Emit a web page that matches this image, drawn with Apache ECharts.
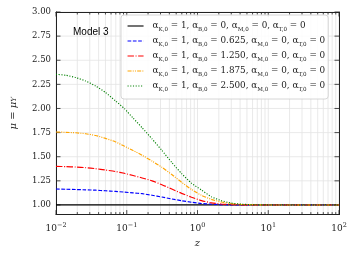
<!DOCTYPE html>
<html><head><meta charset="utf-8">
<script src="https://cdn.jsdelivr.net/npm/echarts@6/dist/echarts.min.js"></script>
<style>html,body{margin:0;padding:0;background:#fff}#c{width:354px;height:253px}</style>
</head><body><div id="c"></div>
<script>
// ---- data ----
const zVals   = [0.01, 0.0138, 0.0191, 0.0263, 0.0362, 0.05, 0.069, 0.0922, 0.123, 0.165, 0.2275, 0.314, 0.433, 0.597, 0.824, 1.137, 1.57, 2.167, 2.99, 4.13, 6.68, 10.8, 100];
const muB0000 = [1, 1, 1, 1, 1, 1, 1, 1, 1, 1, 1, 1, 1, 1, 1, 1, 1, 1, 1, 1, 1, 1, 1];
const muB0625 = [1.165, 1.163, 1.16, 1.157, 1.153, 1.147, 1.14, 1.133, 1.125, 1.117, 1.10, 1.082, 1.062, 1.044, 1.028, 1.015, 1.008, 1.003, 1.001, 1.0, 1.0, 1.0, 1.0];
const muB1250 = [1.40, 1.397, 1.393, 1.387, 1.376, 1.362, 1.347, 1.328, 1.305, 1.28, 1.25, 1.21, 1.165, 1.12, 1.08, 1.045, 1.022, 1.01, 1.004, 1.001, 1.0, 1.0, 1.0];
const muB1875 = [1.756, 1.753, 1.748, 1.738, 1.72, 1.69, 1.655, 1.61, 1.565, 1.515, 1.455, 1.39, 1.315, 1.235, 1.16, 1.10, 1.058, 1.03, 1.014, 1.006, 1.001, 1.0, 1.0];
const muB2500 = [2.354, 2.344, 2.32, 2.285, 2.234, 2.166, 2.08, 2.00, 1.90, 1.80, 1.685, 1.565, 1.44, 1.325, 1.225, 1.155, 1.085, 1.045, 1.02, 1.008, 1.002, 1.0, 1.0];
const alphaB = ['0', '0.625', '1.250', '1.875', '2.500'];
const yTicks = [1.00, 1.25, 1.50, 1.75, 2.00, 2.25, 2.50, 2.75, 3.00];
const xMajor = [0.01, 0.1, 1, 10, 100];
const xMinorMult = [2, 3, 4, 5, 6, 7, 8, 9];

const xMinor = [];
xMajor.slice(0, 4).forEach(d => xMinorMult.forEach(m => xMinor.push(+(m * d).toPrecision(3))));

const seriesData = [muB0000, muB0625, muB1250, muB1875, muB2500];
const colors = ['#000000', '#0000ff', '#ff0000', '#ffa500', '#008000'];
const dashes = ['solid', [3.7, 1.6], [6.4, 1.6, 1, 1.6], [4, 1.2, 1, 1.2, 1, 1.2], [1.1, 1.6]];
const names = alphaB.map((b, i) => 'S' + i);

const serif = '"DejaVu Serif", "Liberation Serif", serif';
const gridCol = '#e3e3e3';
const axisCol = '#222';

const chart = echarts.init(document.getElementById('c'), null, {renderer: 'canvas'});

function gridRender(params, api) {
  const cs = params.coordSys;
  const kind = api.value(0);
  const v = api.value(1);
  const children = [];
  if (kind === 0 || kind === 1) {
    const px = api.coord([v, 1])[0];
    const len = kind === 0 ? 4.5 : 2.5;
    children.push({type: 'line', shape: {x1: px, y1: cs.y, x2: px, y2: cs.y + cs.height}, style: {stroke: gridCol, lineWidth: 0.8}, silent: true});
    children.push({type: 'line', shape: {x1: px, y1: cs.y + cs.height, x2: px, y2: cs.y + cs.height - len}, style: {stroke: axisCol, lineWidth: 0.8}, silent: true});
    children.push({type: 'line', shape: {x1: px, y1: cs.y, x2: px, y2: cs.y + len}, style: {stroke: axisCol, lineWidth: 0.8}, silent: true});
  } else {
    const py = api.coord([1, v])[1];
    children.push({type: 'line', shape: {x1: cs.x, y1: py, x2: cs.x + cs.width, y2: py}, style: {stroke: gridCol, lineWidth: 0.8}, silent: true});
    children.push({type: 'line', shape: {x1: cs.x, y1: py, x2: cs.x + 4.5, y2: py}, style: {stroke: axisCol, lineWidth: 0.8}, silent: true});
    children.push({type: 'line', shape: {x1: cs.x + cs.width, y1: py, x2: cs.x + cs.width - 4.5, y2: py}, style: {stroke: axisCol, lineWidth: 0.8}, silent: true});
  }
  return {type: 'group', children};
}
const gridItems = [];
xMajor.forEach(v => gridItems.push([0, v]));
xMinor.forEach(v => gridItems.push([1, v]));
yTicks.forEach(v => gridItems.push([2, v]));

function legendLabel(i) {
  return '{g|}{t|α}{s|K,0}{t| = 1, α}{s|B,0}{t| = ' + alphaB[i] + ', α}{s|M,0}{t| = 0, α}{s|T,0}{t| = 0}';
}

const series = [{
  type: 'custom', name: 'grid', coordinateSystem: 'cartesian2d', renderItem: gridRender,
  data: gridItems, encode: {x: -1, y: -1}, z: 0, silent: true, clip: false
}];
seriesData.forEach((arr, i) => {
  series.push({
    type: 'line', name: names[i], data: zVals.map((z, k) => [z, arr[k]]),
    showSymbol: false, symbol: 'none', smooth: 0.2,
    lineStyle: {color: colors[i], width: i === 0 ? 1.3 : 1.15, type: dashes[i]},
    itemStyle: {color: colors[i]}, z: 5 + i, silent: true
  });
});

chart.setOption({
  animation: false,
  backgroundColor: '#fff',
  grid: {left: 53, right: 15, top: 12, bottom: 36},
  title: {text: 'Model 3', left: 73, top: 27, padding: 0, textStyle: {fontFamily: '"Liberation Sans", Arial, sans-serif', fontWeight: 'normal', fontSize: 10, color: '#000'}},
  xAxis: [{
    type: 'log', logBase: 10, min: 0.01, max: 100,
    name: 'z', nameLocation: 'middle', nameGap: 20,
    nameTextStyle: {fontFamily: serif, fontStyle: 'italic', fontSize: 10, color: '#222'},
    axisLine: {show: true, lineStyle: {color: axisCol, width: 1}},
    axisTick: {show: false}, splitLine: {show: false}, minorTick: {show: false},
    axisLabel: {
      margin: 7, color: '#222',
      formatter: v => { const e = Math.round(Math.log10(v)); return '{b|10}{e|' + (e < 0 ? '−' + (-e) : e) + '}'; },
      rich: {b: {fontFamily: serif, fontSize: 9, lineHeight: 14, color: '#222'}, e: {fontFamily: serif, fontSize: 6.5, lineHeight: 8, verticalAlign: 'top', color: '#222'}}
    }
  }, {
    type: 'log', logBase: 10, min: 0.01, max: 100, position: 'top',
    axisLine: {show: true, lineStyle: {color: axisCol, width: 1}},
    axisTick: {show: false}, axisLabel: {show: false}, splitLine: {show: false}
  }],
  yAxis: [{
    type: 'value', min: 0.9, max: 3.0, interval: 0.05,
    name: 'μ = μ{s|Y}', nameLocation: 'middle', nameGap: 38,
    nameTextStyle: {fontFamily: serif, fontStyle: 'italic', fontSize: 10, color: '#222', rich: {s: {fontFamily: serif, fontStyle: 'italic', fontSize: 7, verticalAlign: 'bottom', lineHeight: 7}}},
    axisLine: {show: true, lineStyle: {color: axisCol, width: 1}},
    axisTick: {show: false}, splitLine: {show: false},
    axisLabel: {
      margin: 5, fontFamily: serif, fontSize: 8.5, color: '#222',
      formatter: v => (Math.abs(v * 4 - Math.round(v * 4)) < 1e-6 && v >= 0.999) ? v.toFixed(2) : ''
    }
  }, {
    type: 'value', min: 0.9, max: 3.0, position: 'right',
    axisLine: {show: true, lineStyle: {color: axisCol, width: 1}},
    axisTick: {show: false}, axisLabel: {show: false}, splitLine: {show: false}
  }],
  legend: {
    data: names, orient: 'vertical', left: 121, top: 15, itemWidth: 16, itemHeight: 8, itemGap: 2,
    padding: [5, 3, 6, 6],
    itemStyle: {opacity: 0, borderWidth: 0},
    lineStyle: {width: 1.1},
    backgroundColor: 'rgba(255,255,255,0.85)', borderColor: '#cccccc', borderWidth: 0.8, borderRadius: 3,
    formatter: name => legendLabel(names.indexOf(name)),
    textStyle: {
      color: '#222',
      rich: {
        g: {width: 4, lineHeight: 14},
        t: {fontFamily: serif, fontSize: 8.8, lineHeight: 14, color: '#222'},
        s: {fontFamily: serif, fontSize: 5.6, lineHeight: 6, verticalAlign: 'bottom', color: '#222'}
      }
    }
  },
  series
});
</script></body></html>
